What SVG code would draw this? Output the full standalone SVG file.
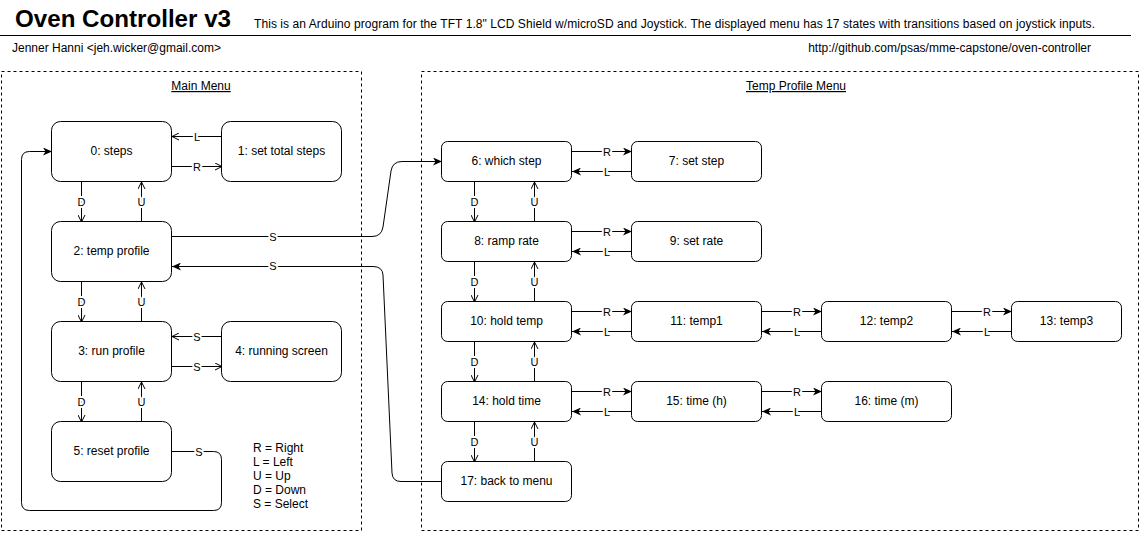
<svg xmlns="http://www.w3.org/2000/svg" width="1143" height="536" viewBox="0 0 1143 536">
<style>
text{font-family:"Liberation Sans",Arial,sans-serif;fill:#000}
.title{font-size:24px;font-weight:bold}
.hdr{font-size:12px}
.node{fill:#fff;stroke:#000;stroke-width:1}
.nt{font-size:12px;text-anchor:middle}
.grp{fill:none;stroke:#000;stroke-width:1;stroke-dasharray:3,3}
.gt{font-size:12px;text-anchor:middle;text-decoration:underline}
.e{fill:none;stroke:#000;stroke-width:1}
.o{marker-end:url(#open)}
.f{marker-end:url(#fill)}
.lb{font-size:11px;text-anchor:middle;stroke:#fff;stroke-width:4px;paint-order:stroke;stroke-linejoin:round}
.lg{font-size:12px}
</style>
<defs>
<marker id="open" viewBox="0 0 8 8" refX="7.5" refY="4" markerWidth="8" markerHeight="8" markerUnits="userSpaceOnUse" orient="auto">
<path d="M0.5,0.5 L7.5,4 L0.5,7.5" fill="none" stroke="#000" stroke-width="1"/>
</marker>
<marker id="fill" viewBox="0 0 9 8" refX="9" refY="4" markerWidth="9" markerHeight="8" markerUnits="userSpaceOnUse" orient="auto">
<path d="M0,0 L9,4 L0,8 L2.5,4 z" fill="#000"/>
</marker>
</defs>
<rect width="1143" height="536" fill="#fff"/>

<g id="header">
<text class="title" x="15" y="27" textLength="216" lengthAdjust="spacingAndGlyphs">Oven Controller v3</text>
<text class="hdr" x="254" y="28" textLength="841" lengthAdjust="spacing">This is an Arduino program for the TFT 1.8&quot; LCD Shield w/microSD and Joystick. The displayed menu has 17 states with transitions based on joystick inputs.</text>
<line x1="0" y1="35.5" x2="1131" y2="35.5" stroke="#000" stroke-width="1"/>
<text class="hdr" x="12" y="52">Jenner Hanni &lt;jeh.wicker@gmail.com&gt;</text>
<text class="hdr" x="1091" y="52" text-anchor="end">http://github.com/psas/mme-capstone/oven-controller</text>
</g>

<g id="main-menu">
<rect class="grp" x="1.5" y="71.5" width="360" height="459"/>
<text class="gt" x="201" y="90">Main Menu</text>
</g>
<g id="temp-profile-menu">
<rect class="grp" x="421.5" y="71.5" width="717" height="459"/>
<text class="gt" x="796" y="90">Temp Profile Menu</text>
</g>

<g id="connectors">
<path class="e o" d="M221.5,136.5 H172"/>
<path class="e o" d="M171.5,166.5 H222"/>
<path class="e o" d="M81.5,181.5 V222"/>
<path class="e o" d="M141.5,221.5 V182"/>
<path class="e o" d="M81.5,281.5 V322"/>
<path class="e o" d="M141.5,321.5 V282"/>
<path class="e o" d="M81.5,381.5 V422"/>
<path class="e o" d="M141.5,421.5 V382"/>
<path class="e o" d="M221.5,336.5 H172"/>
<path class="e o" d="M171.5,366.5 H222"/>
<path class="e f" d="M171.5,451.5 H213.5 Q221.5,451.5 221.5,459.5 V502.5 Q221.5,510.5 213.5,510.5 H29.5 Q21.5,510.5 21.5,502.5 V159.5 Q21.5,151.5 29.5,151.5 H52"/>
<path class="e f" d="M171.5,236.5 H372 Q381.5,236.5 383,227 L391,171 Q392.5,161.5 402,161.5 H442"/>
<path class="e f" d="M441.5,481.5 H401 Q392.5,481.5 392,473 L383,275 Q382.5,266.5 373,266.5 H172"/>

<path class="e f" d="M571.5,151.5 H632"/>
<path class="e f" d="M631.5,171.5 H572"/>
<path class="e f" d="M571.5,231.5 H632"/>
<path class="e f" d="M631.5,251.5 H572"/>
<path class="e f" d="M571.5,311.5 H632"/>
<path class="e f" d="M631.5,331.5 H572"/>
<path class="e f" d="M761.5,311.5 H822"/>
<path class="e f" d="M821.5,331.5 H762"/>
<path class="e f" d="M951.5,311.5 H1012"/>
<path class="e f" d="M1011.5,331.5 H952"/>
<path class="e f" d="M571.5,391.5 H632"/>
<path class="e f" d="M631.5,411.5 H572"/>
<path class="e f" d="M761.5,391.5 H822"/>
<path class="e f" d="M821.5,411.5 H762"/>

<path class="e o" d="M474.5,181.5 V222"/>
<path class="e o" d="M534.5,221.5 V182"/>
<path class="e o" d="M474.5,261.5 V302"/>
<path class="e o" d="M534.5,301.5 V262"/>
<path class="e o" d="M474.5,341.5 V382"/>
<path class="e o" d="M534.5,381.5 V342"/>
<path class="e o" d="M474.5,421.5 V462"/>
<path class="e o" d="M534.5,461.5 V422"/>

<text class="lb" x="197" y="140.5">L</text>
<text class="lb" x="197" y="170.5">R</text>
<text class="lb" x="81.5" y="206">D</text>
<text class="lb" x="141.5" y="206">U</text>
<text class="lb" x="81.5" y="306">D</text>
<text class="lb" x="141.5" y="306">U</text>
<text class="lb" x="81.5" y="406">D</text>
<text class="lb" x="141.5" y="406">U</text>
<text class="lb" x="197" y="340.5">S</text>
<text class="lb" x="197" y="370.5">S</text>
<text class="lb" x="199" y="455.5">S</text>
<text class="lb" x="273" y="240.5">S</text>
<text class="lb" x="273" y="270">S</text>

<text class="lb" x="607" y="155.5">R</text>
<text class="lb" x="607" y="175.5">L</text>
<text class="lb" x="607" y="235.5">R</text>
<text class="lb" x="607" y="255.5">L</text>
<text class="lb" x="607" y="315.5">R</text>
<text class="lb" x="607" y="335.5">L</text>
<text class="lb" x="797" y="315.5">R</text>
<text class="lb" x="797" y="335.5">L</text>
<text class="lb" x="987" y="315.5">R</text>
<text class="lb" x="987" y="335.5">L</text>
<text class="lb" x="607" y="395.5">R</text>
<text class="lb" x="607" y="415.5">L</text>
<text class="lb" x="797" y="395.5">R</text>
<text class="lb" x="797" y="415.5">L</text>

<text class="lb" x="474.5" y="206">D</text>
<text class="lb" x="534.5" y="206">U</text>
<text class="lb" x="474.5" y="286">D</text>
<text class="lb" x="534.5" y="286">U</text>
<text class="lb" x="474.5" y="366">D</text>
<text class="lb" x="534.5" y="366">U</text>
<text class="lb" x="474.5" y="446">D</text>
<text class="lb" x="534.5" y="446">U</text>
</g>

<g id="n0"><rect class="node" x="51.5" y="121.5" width="120" height="60" rx="9"/><text class="nt" x="111.5" y="155">0: steps</text></g>
<g id="n1"><rect class="node" x="221.5" y="121.5" width="120" height="60" rx="9"/><text class="nt" x="281.5" y="155">1: set total steps</text></g>
<g id="n2"><rect class="node" x="51.5" y="221.5" width="120" height="60" rx="9"/><text class="nt" x="111.5" y="255">2: temp profile</text></g>
<g id="n3"><rect class="node" x="51.5" y="321.5" width="120" height="60" rx="9"/><text class="nt" x="111.5" y="355">3: run profile</text></g>
<g id="n4"><rect class="node" x="221.5" y="321.5" width="120" height="60" rx="9"/><text class="nt" x="281.5" y="355">4: running screen</text></g>
<g id="n5"><rect class="node" x="51.5" y="421.5" width="120" height="60" rx="9"/><text class="nt" x="111.5" y="455">5: reset profile</text></g>

<g id="n6"><rect class="node" x="441.5" y="141.5" width="130" height="40" rx="6"/><text class="nt" x="506.5" y="165">6: which step</text></g>
<g id="n7"><rect class="node" x="631.5" y="141.5" width="130" height="40" rx="6"/><text class="nt" x="696.5" y="165">7: set step</text></g>
<g id="n8"><rect class="node" x="441.5" y="221.5" width="130" height="40" rx="6"/><text class="nt" x="506.5" y="245">8: ramp rate</text></g>
<g id="n9"><rect class="node" x="631.5" y="221.5" width="130" height="40" rx="6"/><text class="nt" x="696.5" y="245">9: set rate</text></g>
<g id="n10"><rect class="node" x="441.5" y="301.5" width="130" height="40" rx="6"/><text class="nt" x="506.5" y="325">10: hold temp</text></g>
<g id="n11"><rect class="node" x="631.5" y="301.5" width="130" height="40" rx="6"/><text class="nt" x="696.5" y="325">11: temp1</text></g>
<g id="n12"><rect class="node" x="821.5" y="301.5" width="130" height="40" rx="6"/><text class="nt" x="886.5" y="325">12: temp2</text></g>
<g id="n13"><rect class="node" x="1011.5" y="301.5" width="110" height="40" rx="6"/><text class="nt" x="1066.5" y="325">13: temp3</text></g>
<g id="n14"><rect class="node" x="441.5" y="381.5" width="130" height="40" rx="6"/><text class="nt" x="506.5" y="405">14: hold time</text></g>
<g id="n15"><rect class="node" x="631.5" y="381.5" width="130" height="40" rx="6"/><text class="nt" x="696.5" y="405">15: time (h)</text></g>
<g id="n16"><rect class="node" x="821.5" y="381.5" width="130" height="40" rx="6"/><text class="nt" x="886.5" y="405">16: time (m)</text></g>
<g id="n17"><rect class="node" x="441.5" y="461.5" width="130" height="40" rx="6"/><text class="nt" x="506.5" y="485">17: back to menu</text></g>

<g id="legend">
<text class="lg" x="253" y="452">R = Right</text>
<text class="lg" x="253" y="466">L = Left</text>
<text class="lg" x="253" y="480">U = Up</text>
<text class="lg" x="253" y="494">D = Down</text>
<text class="lg" x="253" y="508">S = Select</text>
</g>
</svg>
